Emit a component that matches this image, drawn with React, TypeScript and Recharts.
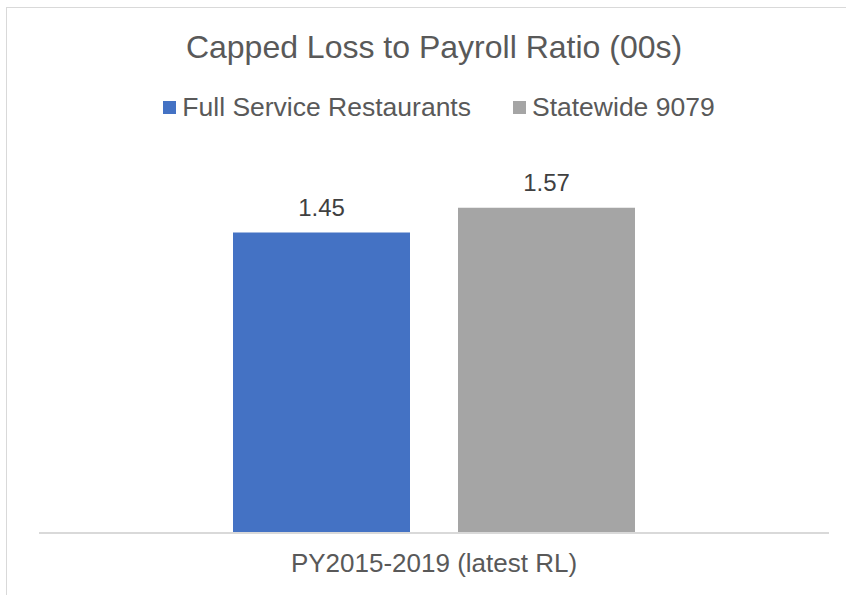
import { BarChart, Bar, XAxis, YAxis, LabelList } from "recharts";

const categories = ["PY2015-2019 (latest RL)"];
const seriesNames = ["Full Service Restaurants", "Statewide 9079"];
const fullService = [1.45];
const statewide = [1.57];
const seriesColors = ["#4472C4", "#A5A5A5"];

const TEXT = "#595959";
const LABEL = "#404040";
const AXIS_LINE = "#D9D9D9";
const FONT = '"Liberation Sans", Arial, sans-serif';

const data = categories.map((name, i) => ({
  name,
  fsr: fullService[i],
  sw: statewide[i],
}));
const keys = ["fsr", "sw"];

function ChartLegend() {
  return (
    <div
      style={{
        position: "absolute",
        top: 93,
        left: 0,
        width: 846,
        display: "flex",
        justifyContent: "center",
        gap: 42,
        paddingLeft: 32,
        boxSizing: "border-box",
      }}
    >
      {seriesNames.map((n, i) => (
        <div key={n} style={{ display: "flex", alignItems: "center", gap: 6 }}>
          <span style={{ width: 13, height: 13, background: seriesColors[i], display: "inline-block" }} />
          <span style={{ fontSize: 26.5, color: TEXT, lineHeight: "28px" }}>{n}</span>
        </div>
      ))}
    </div>
  );
}

export default function App() {
  return (
    <div
      style={{
        position: "absolute",
        left: 0,
        top: 0,
        width: 846,
        height: 595,
        overflow: "hidden",
        background: "#fff",
        fontFamily: FONT,
      }}
    >
      <div
        style={{
          position: "absolute",
          left: 6,
          top: 7,
          width: 1000,
          height: 800,
          border: `1px solid ${AXIS_LINE}`,
        }}
      />
      <div
        style={{
          position: "absolute",
          top: 28,
          left: 0,
          width: 868,
          textAlign: "center",
          fontSize: 32,
          lineHeight: "38px",
          color: TEXT,
        }}
      >
        Capped Loss to Payroll Ratio (00s)
      </div>
      <ChartLegend />
      <div style={{ position: "absolute", left: 0, top: 0 }}>
        <BarChart
          width={846}
          height={595}
          data={data}
          margin={{ top: 160, right: 17, bottom: 0, left: 39 }}
          barGap={48}
          barSize={177}
        >
          <XAxis
            dataKey="name"
            height={62}
            axisLine={{ stroke: AXIS_LINE, strokeWidth: 2 }}
            tickLine={false}
            tickMargin={15}
            tick={{ fill: TEXT, fontSize: 26, fontFamily: FONT }}
          />
          <YAxis hide domain={[0, 1.8]} />
          {keys.map((k, i) => (
            <Bar key={k} dataKey={k} name={seriesNames[i]} fill={seriesColors[i]} isAnimationActive={false}>
              <LabelList
                dataKey={k}
                position="top"
                offset={17}
                fill={LABEL}
                fontSize={24}
                fontFamily={FONT}
              />
            </Bar>
          ))}
        </BarChart>
      </div>
    </div>
  );
}
